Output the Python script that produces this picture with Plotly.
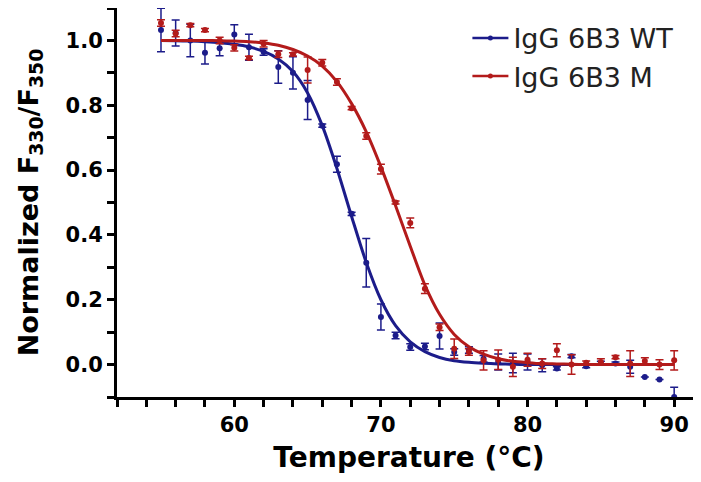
import plotly.graph_objects as go

# temperatures (°C)
temps = [55, 56, 57, 58, 59, 60, 61, 62, 63, 64, 65, 66, 67, 68, 69, 70, 71, 72,
         73, 74, 75, 76, 77, 78, 79, 80, 81, 82, 83, 84, 85, 86, 87, 88, 89, 90]

# IgG 6B3 WT measured points and SD
wt_vals = [1.032, 1.023, 1.0, 0.962, 0.976, 1.018, 0.979, 0.964, 0.918, 0.90,
           0.816, 0.737, 0.618, 0.465, 0.314, 0.147, 0.090, 0.054, 0.056, 0.088,
           0.039, 0.045, 0.018, 0.008, 0.005, 0.008, -0.002, -0.012, 0.026, -0.005,
           0.005, 0.003, -0.007, -0.038, -0.046, -0.10]
wt_err = [0.067, 0.04, 0.05, 0.035, 0.023, 0.03, 0.04, 0.01, 0.05, 0.05,
          0.06, 0.005, 0.025, 0.005, 0.075, 0.04, 0.01, 0.01, 0.01, 0.04,
          0.01, 0.01, 0.01, 0.025, 0.03, 0.025, 0.02, 0.005, 0.005, 0.005,
          0.005, 0.005, 0.02, 0.0, 0.0, 0.03]
# fitted curve
wt_fit = [1.0, 0.999, 0.998, 0.996, 0.993, 0.988, 0.98, 0.966, 0.943, 0.904,
          0.838, 0.737, 0.605, 0.457, 0.315, 0.200, 0.12, 0.07, 0.04, 0.022,
          0.012, 0.007, 0.004, 0.002, 0.001, 0.0, 0.0, 0.0, 0.0, 0.0,
          0.0, 0.0, 0.0, 0.0, 0.0, 0.0]

# IgG 6B3 M measured points and SD
m_vals = [1.054, 1.021, 1.047, 1.032, 1.0, 0.977, 0.946, 0.99, 0.957, 0.957,
          0.909, 0.931, 0.872, 0.791, 0.705, 0.603, 0.50, 0.437, 0.234, 0.115,
          0.049, 0.039, 0.013, 0.015, -0.007, 0.015, 0.003, 0.044, 0.0, 0.006,
          0.008, 0.023, 0.003, 0.011, 0.0, 0.013]
m_err = [0.01, 0.01, 0.005, 0.005, 0.01, 0.01, 0.005, 0.01, 0.01, 0.005,
         0.04, 0.01, 0.01, 0.005, 0.01, 0.015, 0.005, 0.015, 0.015, 0.01,
         0.03, 0.01, 0.03, 0.03, 0.03, 0.02, 0.015, 0.02, 0.03, 0.005,
         0.01, 0.005, 0.04, 0.01, 0.015, 0.03]
m_fit = [1.0, 1.0, 1.0, 1.0, 0.999, 0.998, 0.996, 0.992, 0.985, 0.972,
         0.952, 0.921, 0.873, 0.805, 0.718, 0.61, 0.49, 0.365, 0.245, 0.155,
         0.093, 0.055, 0.032, 0.018, 0.01, 0.006, 0.003, 0.002, 0.001, 0.0,
         0.0, 0.0, 0.0, 0.0, 0.0, 0.0]

blue = "#1c1c8a"
red = "#b31b1b"
font_name = "DejaVu Sans"

fig = go.Figure()

for name, vals, err, fit, col in [("IgG 6B3 WT", wt_vals, wt_err, wt_fit, blue),
                                  ("IgG 6B3 M", m_vals, m_err, m_fit, red)]:
    fig.add_trace(go.Scatter(x=temps, y=fit, mode="lines", line=dict(color=col, width=3, shape="spline", smoothing=0.8),
                             showlegend=False))
    fig.add_trace(go.Scatter(x=temps, y=vals, mode="markers", marker=dict(color=col, size=6),
                             error_y=dict(type="data", array=err, visible=True, color=col,
                                          thickness=1.5, width=4),
                             showlegend=False, cliponaxis=False))
    # legend entry
    fig.add_trace(go.Scatter(x=[None], y=[None], mode="lines+markers", name=name,
                             line=dict(color=col, width=2.5), marker=dict(color=col, size=5)))

# the page body adds 8px round the figure, so it is sized to fit the window
# without a scrollbar and the margins are set with that in mind
fig.update_layout(
    width=693, height=466,
    margin=dict(l=109, r=0, t=0, b=77),
    plot_bgcolor="white", paper_bgcolor="white",
    font=dict(family=font_name, color="black"),
    legend=dict(x=0.6, y=0.985, xanchor="left", yanchor="top",
                font=dict(size=27, color="#222222"), bgcolor="rgba(0,0,0,0)",
                itemwidth=36, tracegroupgap=0),
)

fig.update_xaxes(
    range=[52, 91.83], showgrid=False, zeroline=False, automargin=False,
    showline=True, linecolor="black", linewidth=3, mirror=True,
    ticks="outside", ticklen=7, tickwidth=2.5, tickcolor="black",
    tickvals=[60, 70, 80, 90],
    minor=dict(ticks="outside", dtick=2, tick0=0, ticklen=7, tickwidth=2.5, tickcolor="black"),
    tickfont=dict(size=21, family=font_name, weight="bold"),
    title=dict(text="<b>Temperature (°C)</b>", font=dict(size=28), standoff=14),
)
fig.update_yaxes(
    range=[-0.1, 1.1], showgrid=False, zeroline=False, automargin=False,
    showline=True, linecolor="black", linewidth=3,
    ticks="outside", ticklen=7, tickwidth=2.5, tickcolor="black",
    tickvals=[0.0, 0.2, 0.4, 0.6, 0.8, 1.0], tickformat=".1f",
    minor=dict(ticks="outside", dtick=0.1, tick0=0, ticklen=7, tickwidth=2.5, tickcolor="black"),
    tickfont=dict(size=21, family=font_name, weight="bold"),
    title=dict(text="<b>Normalized F<sub>330</sub>/F<sub>350</sub></b>", font=dict(size=27), standoff=20),
)

fig.write_html("out.html")
